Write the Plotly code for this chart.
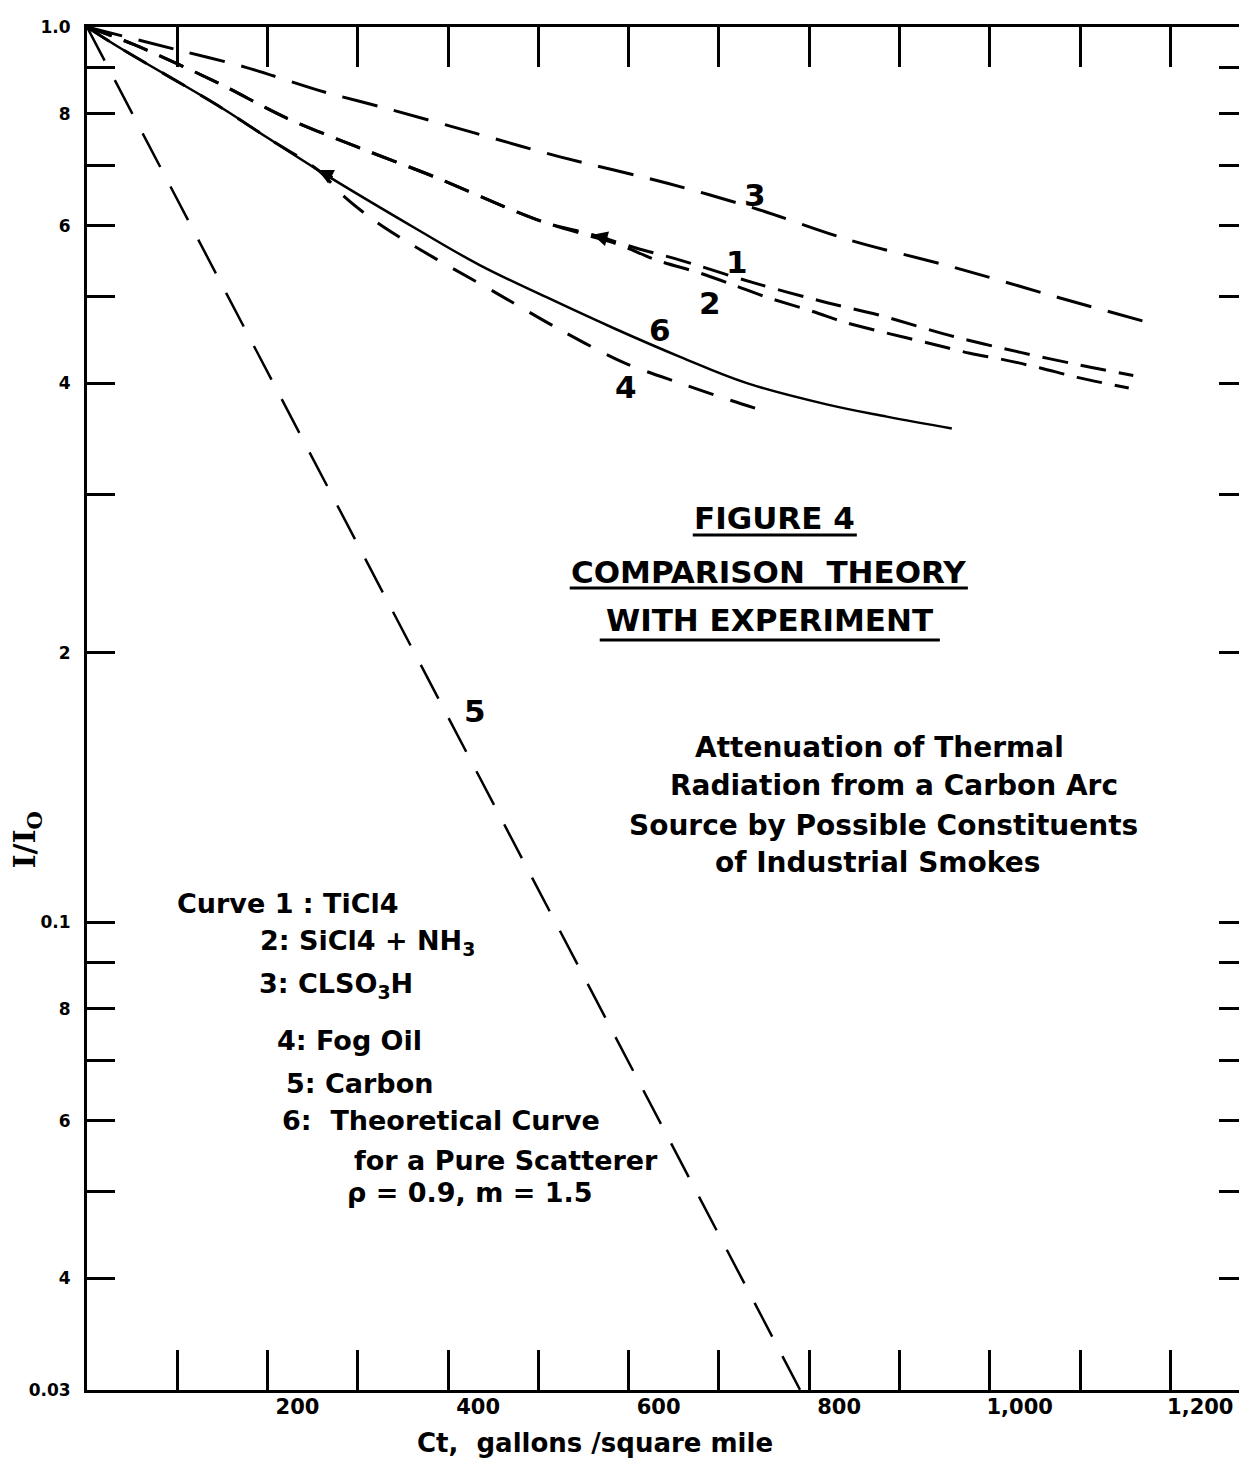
import math
import plotly.graph_objects as go

# ---------------- data ----------------
ct_1 = [0, 53, 145, 219, 300, 385, 472, 509, 560, 609, 657, 738, 820, 876, 960, 1034, 1100, 1159]
i_1 = [1.0, 0.955, 0.866, 0.793, 0.734, 0.680, 0.624, 0.604, 0.586, 0.566, 0.549, 0.518, 0.492, 0.477, 0.451, 0.433, 0.419, 0.408]

ct_2 = [0, 53, 145, 219, 300, 385, 472, 509, 560, 590, 631, 679, 716, 753, 804, 842, 886, 934, 978, 1015, 1056, 1097, 1154]
i_2 = [1.0, 0.955, 0.866, 0.793, 0.734, 0.680, 0.624, 0.604, 0.583, 0.571, 0.549, 0.531, 0.515, 0.499, 0.481, 0.467, 0.455, 0.443, 0.432, 0.425, 0.416, 0.406, 0.395]

ct_3 = [0, 100, 175, 263, 330, 430, 524, 643, 738, 845, 960, 1075, 1184]
i_3 = [1.0, 0.943, 0.902, 0.846, 0.812, 0.761, 0.716, 0.669, 0.628, 0.578, 0.539, 0.499, 0.465]

ct_4 = [0, 34, 145, 200, 256, 286, 319, 355, 389, 454, 524, 594, 657, 712, 759]
i_4 = [1.0, 0.951, 0.817, 0.752, 0.692, 0.645, 0.607, 0.575, 0.549, 0.504, 0.459, 0.422, 0.400, 0.383, 0.370]

ct_5 = [0, 790]
i_5 = [1.0, 0.03]

ct_6 = [0, 34, 145, 200, 256, 366, 435, 509, 583, 657, 731, 823, 886, 958]
i_6 = [1.0, 0.951, 0.817, 0.752, 0.692, 0.594, 0.542, 0.499, 0.461, 0.428, 0.400, 0.378, 0.367, 0.356]

curve_labels = ["3", "1", "2", "6", "4", "5"]
label_ct = [740, 720, 690, 635, 597, 430]
label_i = [0.649, 0.546, 0.491, 0.459, 0.396, 0.172]

x_tickvals = [200, 400, 600, 800, 1000, 1200]
x_ticktext = ["200", "400", "600", "800", "1,000", "1,200"]

y_tickvals = [0.03, 0.04, 0.05, 0.06, 0.07, 0.08, 0.09, 0.1, 0.2, 0.3, 0.4, 0.5, 0.6, 0.7, 0.8, 0.9, 1.0]
y_ticktext = ["0.03", "4", "", "6", "", "8", "", "0.1", "2", "", "4", "", "6", "", "8", "", "1.0"]

legend_lines = [
    "Curve 1 : TiCl4",
    "2: SiCl4 + NH<sub>3</sub>",
    "3: CLSO<sub>3</sub>H",
    "4: Fog Oil",
    "5: Carbon",
    "6:  Theoretical Curve",
    "for a Pure Scatterer",
    "\u03c1 = 0.9, m = 1.5",
]
title_lines = ["FIGURE 4", "COMPARISON  THEORY", "WITH EXPERIMENT"]
desc_lines = [
    "Attenuation of Thermal",
    "Radiation from a Carbon Arc",
    "Source by Possible Constituents",
    "of Industrial Smokes",
]

FONT = "DejaVu Sans, Liberation Sans, sans-serif"
BLACK = "#000000"

fig = go.Figure()

def add_curve(x, y, dash, width=3, shape="spline", smoothing=0.9):
    fig.add_trace(go.Scatter(x=x, y=y, mode="lines", showlegend=False,
                             line=dict(color=BLACK, width=width, dash=dash,
                                       shape=shape, smoothing=smoothing),
                             hoverinfo="skip"))

add_curve(ct_3, i_3, "36px,17px")
add_curve(ct_1, i_1, "26px,13px")
add_curve(ct_2, i_2, "26px,13px")
add_curve(ct_4, i_4, "26px,18px")
add_curve(ct_5, i_5, "38px,22px", width=2.5, shape="linear")
add_curve(ct_6, i_6, "solid", width=2.5, smoothing=1.1)

# invisible trace to carry the right-hand tick axis
fig.add_trace(go.Scatter(x=ct_5, y=i_5, yaxis="y2", mode="lines", opacity=0,
                         showlegend=False, hoverinfo="skip"))

annotations = []
for t, cx, cy in zip(curve_labels, label_ct, label_i):
    annotations.append(dict(x=cx, y=math.log10(cy), xref="x", yref="y", text="<b>%s</b>" % t,
                            showarrow=False, xanchor="center", yanchor="middle",
                            font=dict(family=FONT, size=31, color=BLACK)))

# small arrows on curves (start of curve 4, split of curves 1 & 2)
annotations.append(dict(x=ct_4[4], y=math.log10(i_4[4]), xref="x", yref="y", text="",
                        showarrow=True, arrowhead=2, arrowsize=1.2, arrowwidth=2.5,
                        arrowcolor=BLACK, ax=16, ay=8))
annotations.append(dict(x=ct_1[8], y=math.log10(i_1[8]), xref="x", yref="y", text="",
                        showarrow=True, arrowhead=2, arrowsize=1.2, arrowwidth=2.5,
                        arrowcolor=BLACK, ax=18, ay=5))

# geometry helpers: reference pixel -> paper fraction (plot area 87.5..1247, 27..1390)
def px_x(p):
    return (p - 87.5) / 1159.5

def px_y(p):
    return (1390 - p) / 1363.0

title_pos = [(775, 518), (769, 572), (770, 620)]
for t, (px, py) in zip(title_lines, title_pos):
    annotations.append(dict(x=px_x(px), y=px_y(py), xref="paper", yref="paper", text="<b>%s</b>" % t,
                            showarrow=False, xanchor="center", yanchor="middle",
                            font=dict(family=FONT, size=31, color=BLACK)))

desc_pos = [(693, 748), (668, 786), (627, 825), (713, 862)]
for t, (px, py) in zip(desc_lines, desc_pos):
    annotations.append(dict(x=px_x(px), y=px_y(py), xref="paper", yref="paper", text="<b>%s</b>" % t,
                            showarrow=False, xanchor="left", yanchor="middle",
                            font=dict(family=FONT, size=28, color=BLACK)))

legend_pos = [(175, 903), (258, 943), (257, 985), (275, 1040), (284, 1083),
              (280, 1120), (352, 1160), (345, 1192)]
for t, (px, py) in zip(legend_lines, legend_pos):
    annotations.append(dict(x=px_x(px), y=px_y(py), xref="paper", yref="paper", text="<b>%s</b>" % t,
                            showarrow=False, xanchor="left", yanchor="middle",
                            font=dict(family=FONT, size=27, color=BLACK)))

# axis titles
annotations.append(dict(x=px_x(595), y=px_y(1443), xref="paper", yref="paper",
                        text="<b>Ct,  gallons /square mile</b>", showarrow=False,
                        xanchor="center", yanchor="middle",
                        font=dict(family=FONT, size=26, color=BLACK)))
annotations.append(dict(x=px_x(28), y=px_y(840), xref="paper", yref="paper",
                        text="<b>I/I<sub>O</sub></b>", showarrow=False, textangle=-90,
                        xanchor="center", yanchor="middle",
                        font=dict(family="DejaVu Serif, Liberation Serif, serif", size=30, color=BLACK)))

shapes = []
# underlines of the title block
for x0, x1, yp in [(693, 857, 535), (570, 968, 588), (600, 940, 640)]:
    shapes.append(dict(type="line", xref="paper", yref="paper",
                       x0=px_x(x0), x1=px_x(x1), y0=px_y(yp), y1=px_y(yp),
                       line=dict(color=BLACK, width=3)))
# long ticks at 0.1 on both sides
shapes.append(dict(type="line", xref="paper", yref="y", x0=0, x1=px_x(160),
                   y0=-1, y1=-1, line=dict(color=BLACK, width=3)))
shapes.append(dict(type="line", xref="paper", yref="y", x0=px_x(1178), x1=1,
                   y0=-1, y1=-1, line=dict(color=BLACK, width=3)))

ylog_range = [math.log10(0.03), 0]

fig.update_layout(
    width=1239, height=1457,
    margin=dict(l=79, r=0, t=19, b=75, pad=0),
    paper_bgcolor="white", plot_bgcolor="white",
    showlegend=False,
    annotations=annotations,
    shapes=shapes,
    xaxis=dict(
        range=[0, 1285], showgrid=False, zeroline=False,
        showline=True, linecolor=BLACK, linewidth=3, mirror="allticks",
        tickmode="array", tickvals=x_tickvals,
        ticktext=["<b>%s</b>" % t for t in x_ticktext],
        ticks="inside", ticklen=40, tickwidth=2.5, tickcolor=BLACK,
        ticklabelshift=30, ticklabelstandoff=-4,
        tickfont=dict(family=FONT, size=21, color=BLACK),
        minor=dict(tickmode="linear", tick0=0, dtick=100, ticks="inside",
                   ticklen=25, tickwidth=2.5, tickcolor=BLACK, showgrid=False),
    ),
    yaxis=dict(
        type="log", range=ylog_range, showgrid=False, zeroline=False,
        showline=True, linecolor=BLACK, linewidth=3,
        tickmode="array", tickvals=y_tickvals,
        ticktext=["<b>%s</b>" % t if t else "" for t in y_ticktext],
        ticks="inside", ticklen=28, tickwidth=3, tickcolor=BLACK,
        ticklabelstandoff=10,
        tickfont=dict(family=FONT, size=17, color=BLACK),
    ),
    yaxis2=dict(
        type="log", range=ylog_range, overlaying="y", side="right",
        showgrid=False, zeroline=False, showline=False,
        tickmode="array", tickvals=y_tickvals, showticklabels=False,
        ticks="inside", ticklen=28, tickwidth=3, tickcolor=BLACK,
    ),
)

fig.write_html("out.html")
